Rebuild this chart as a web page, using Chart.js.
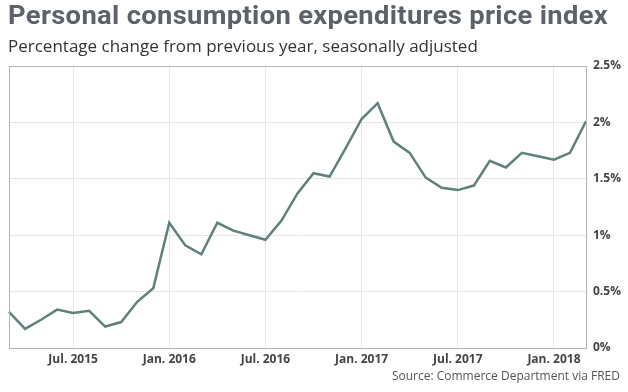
<!DOCTYPE html>
<html>
<head>
<meta charset="utf-8">
<script src="https://cdn.jsdelivr.net/npm/chart.js@4/dist/chart.umd.min.js"></script>
<style>
  html, body { margin: 0; padding: 0; background: #fff; }
  #wrap { position: relative; width: 628px; height: 392px; overflow: hidden; }
  #title { position: absolute; left: 8px; top: 1px; font: bold 25px Roboto, sans-serif; color: #5d6169; white-space: nowrap; transform-origin: 0 0; letter-spacing: 0.3px; }
  #subtitle { position: absolute; left: 8px; top: 34px; font: 17px "Open Sans", sans-serif; color: #333; white-space: nowrap; }
  #source { position: absolute; right: 8px; top: 367px; font: 12px "Open Sans", sans-serif; color: #555; white-space: nowrap; }
  #chart { position: absolute; left: 0; top: 0; }
</style>
</head>
<body>
<div id="wrap">
  <canvas id="chart" width="628" height="392"></canvas>
  <div id="title">Personal consumption expenditures price index</div>
  <div id="subtitle">Percentage change from previous year, seasonally adjusted</div>
  <div id="source">Source: Commerce Department via FRED</div>
</div>
<script>
  const months = [
    'Mar. 2015', 'Apr. 2015', 'May 2015', 'Jun. 2015', 'Jul. 2015', 'Aug. 2015',
    'Sep. 2015', 'Oct. 2015', 'Nov. 2015', 'Dec. 2015', 'Jan. 2016', 'Feb. 2016',
    'Mar. 2016', 'Apr. 2016', 'May 2016', 'Jun. 2016', 'Jul. 2016', 'Aug. 2016',
    'Sep. 2016', 'Oct. 2016', 'Nov. 2016', 'Dec. 2016', 'Jan. 2017', 'Feb. 2017',
    'Mar. 2017', 'Apr. 2017', 'May 2017', 'Jun. 2017', 'Jul. 2017', 'Aug. 2017',
    'Sep. 2017', 'Oct. 2017', 'Nov. 2017', 'Dec. 2017', 'Jan. 2018', 'Feb. 2018',
    'Mar. 2018',
  ];

  const pceChange = [
    0.32, 0.17, 0.25, 0.34, 0.31, 0.33,
    0.19, 0.23, 0.41, 0.53, 1.11, 0.91,
    0.83, 1.11, 1.04, 1.00, 0.96, 1.13,
    1.37, 1.55, 1.52, 1.77, 2.03, 2.17,
    1.83, 1.73, 1.51, 1.42, 1.40, 1.44,
    1.66, 1.60, 1.73, 1.70, 1.67, 1.73,
    2.01,
  ];

  const yTicks = [0, 0.5, 1, 1.5, 2, 2.5];

  const shownLabel = (i) => /^(Jan|Jul)\./.test(months[i]);

  // stretch the headline so it spans the width like the original
  const title = document.getElementById('title');
  const natural = title.getBoundingClientRect().width;
  title.style.transform = 'scaleX(' + (600 / natural) + ')';

  // box around the plot area
  const frame = {
    id: 'frame',
    afterDraw(chart) {
      const a = chart.chartArea;
      const ctx = chart.ctx;
      ctx.save();
      ctx.strokeStyle = '#b3b3b3';
      ctx.lineWidth = 1;
      ctx.strokeRect(Math.round(a.left) + 0.5, Math.round(a.top) + 0.5,
        Math.round(a.right - a.left), Math.round(a.bottom - a.top));
      ctx.restore();
    }
  };

  const data = {
    labels: months,
    datasets: [{
      label: 'PCE price index',
      data: pceChange,
      borderColor: '#5f817c',
      borderWidth: 2.5,
      pointRadius: 0,
      tension: 0,
      fill: false,
    }]
  };

  const config = {
    type: 'line',
    data: data,
    plugins: [frame],
    options: {
      responsive: false,
      animation: false,
      layout: { padding: { left: 9, top: 66, right: 0, bottom: 0 } },
      plugins: {
        legend: { display: false },
        tooltip: { enabled: false },
      },
      scales: {
        x: {
          offset: false,
          afterFit: (s) => { s.height = 44; },
          border: { display: false },
          grid: {
            drawTicks: false,
            color: (c) => (c.index !== undefined && shownLabel(c.index) ? '#e6e6e6' : 'rgba(0,0,0,0)'),
          },
          ticks: {
            autoSkip: false,
            maxRotation: 0,
            padding: 4,
            color: '#444',
            font: { family: 'Open Sans', size: 12, weight: 'bold' },
            callback: (v, i) => (shownLabel(i) ? months[i] : ''),
          },
        },
        y: {
          position: 'right',
          min: 0,
          max: 2.5,
          afterFit: (s) => { s.width = 42; },
          afterBuildTicks: (s) => { s.ticks = yTicks.map((v) => ({ value: v })); },
          border: { display: false },
          grid: { drawTicks: false, color: '#e6e6e6' },
          ticks: {
            padding: 7,
            color: '#444',
            font: { family: 'Open Sans', size: 12, weight: 'bold' },
            callback: (v) => v + '%',
          },
        },
      },
    },
  };

  const myChart = new Chart(document.getElementById('chart'), config);
</script>
</body>
</html>
